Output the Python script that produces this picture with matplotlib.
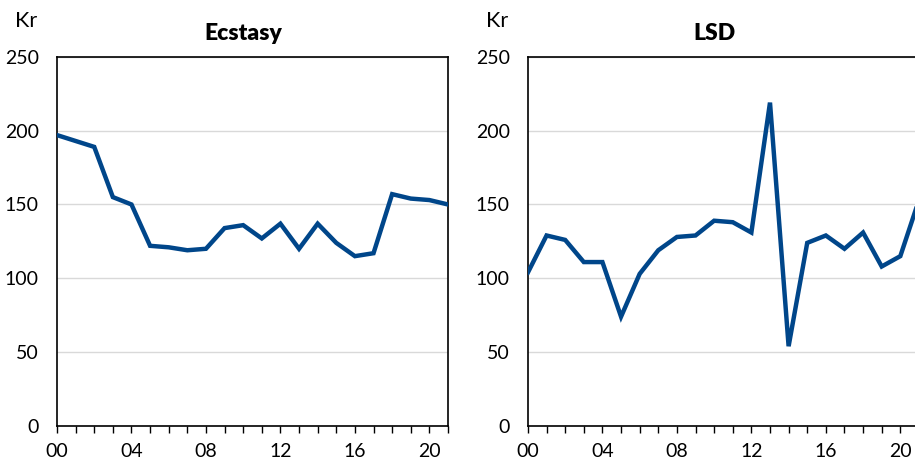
import matplotlib
matplotlib.use("Agg")
import matplotlib.pyplot as plt
from matplotlib.ticker import MultipleLocator, FixedLocator

plt.rcParams['font.family'] = ['Lato', 'DejaVu Sans']

years = list(range(2000, 2022))
tick_years = [2000, 2004, 2008, 2012, 2016, 2020]
tick_labels = ['00', '04', '08', '12', '16', '20']

ecstasy = [197, 193, 189, 155, 150, 122, 121, 119, 120, 134, 136, 127,
           137, 120, 137, 124, 115, 117, 157, 154, 153, 150]
lsd = [104, 129, 126, 111, 111, 74, 103, 119, 128, 129, 139, 138,
       131, 219, 54, 124, 129, 120, 131, 108, 115, 153]

panels = [("Ecstasy", ecstasy), ("LSD", lsd)]
line_col = '#00468A'

fig = plt.figure(figsize=(9.15, 4.62), dpi=100)
lefts = [0.0623, 0.577]

for left, (title, vals) in zip(lefts, panels):
    ax = fig.add_axes([left, 0.078, 0.4273, 0.799])
    ax.plot(years, vals, color=line_col, lw=3.2, solid_joinstyle='miter', zorder=3)
    ax.set_xlim(2000, 2021)
    ax.set_ylim(0, 250)
    ax.yaxis.set_major_locator(MultipleLocator(50))
    ax.xaxis.set_major_locator(FixedLocator(tick_years))
    ax.set_xticklabels(tick_labels)
    ax.xaxis.set_minor_locator(MultipleLocator(1))
    ax.grid(axis='y', color='#d9d9d9', lw=1, zorder=1)
    ax.tick_params(axis='y', length=0, pad=13, labelsize=14)
    ax.tick_params(axis='x', which='both', direction='out', length=5, width=1, pad=7, labelsize=14)
    for s in ax.spines.values():
        s.set_linewidth(1.2)
    ax.set_title(title, fontsize=16.5, fontweight='heavy', x=0.476, pad=12)
    ax.text(-0.107, 1.081, 'Kr', transform=ax.transAxes, fontsize=15.5, ha='left', va='baseline')

fig.savefig('out.png', dpi=100)
